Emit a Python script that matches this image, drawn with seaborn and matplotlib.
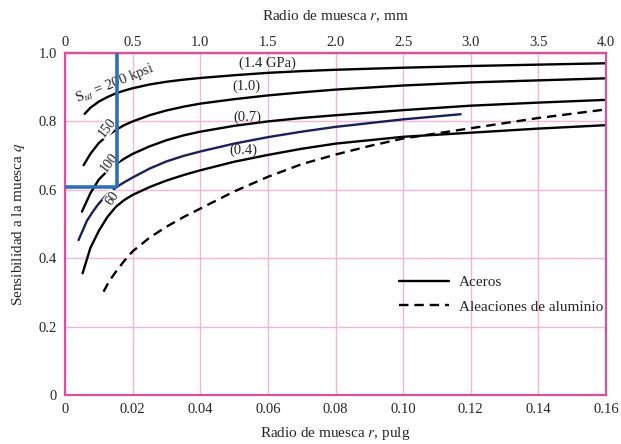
import matplotlib.pyplot as plt
import numpy as np
import pandas as pd
import seaborn as sns
from matplotlib.lines import Line2D

# notch radius r (in) and notch sensitivity q
r_200 = [0.0058, 0.0075, 0.01, 0.0125, 0.015, 0.0175, 0.02, 0.025, 0.03, 0.035, 0.04, 0.05, 0.06, 0.07, 0.08, 0.10, 0.12, 0.14, 0.16]
q_200 = [0.822, 0.840, 0.858, 0.871, 0.882, 0.890, 0.897, 0.908, 0.916, 0.922, 0.927, 0.935, 0.942, 0.947, 0.951, 0.957, 0.962, 0.966, 0.970]

r_150 = [0.0055, 0.0075, 0.01, 0.0125, 0.015, 0.0175, 0.02, 0.025, 0.03, 0.035, 0.04, 0.05, 0.06, 0.07, 0.08, 0.10, 0.12, 0.14, 0.16]
q_150 = [0.672, 0.705, 0.737, 0.758, 0.775, 0.789, 0.800, 0.818, 0.832, 0.843, 0.852, 0.865, 0.876, 0.885, 0.893, 0.905, 0.914, 0.920, 0.926]

r_100 = [0.005, 0.0075, 0.01, 0.0125, 0.015, 0.0175, 0.02, 0.025, 0.03, 0.035, 0.04, 0.05, 0.06, 0.07, 0.08, 0.10, 0.12, 0.14, 0.16]
q_100 = [0.536, 0.590, 0.630, 0.655, 0.675, 0.691, 0.705, 0.727, 0.745, 0.759, 0.770, 0.787, 0.800, 0.810, 0.818, 0.833, 0.846, 0.855, 0.863]

r_mid = [0.004, 0.0065, 0.0085, 0.01, 0.0125, 0.0154, 0.0175, 0.02, 0.025, 0.03, 0.035, 0.04, 0.05, 0.06, 0.07, 0.08, 0.10, 0.117]
q_mid = [0.453, 0.510, 0.540, 0.560, 0.587, 0.609, 0.622, 0.636, 0.662, 0.683, 0.699, 0.712, 0.735, 0.754, 0.770, 0.784, 0.806, 0.821]

r_60 = [0.0052, 0.0075, 0.01, 0.0125, 0.015, 0.0175, 0.02, 0.025, 0.03, 0.035, 0.04, 0.05, 0.06, 0.07, 0.08, 0.10, 0.12, 0.14, 0.16]
q_60 = [0.356, 0.430, 0.480, 0.520, 0.550, 0.570, 0.585, 0.608, 0.627, 0.643, 0.657, 0.682, 0.702, 0.720, 0.735, 0.755, 0.767, 0.779, 0.789]

r_al = [0.0114, 0.013, 0.015, 0.0175, 0.02, 0.025, 0.03, 0.035, 0.04, 0.05, 0.06, 0.07, 0.08, 0.09, 0.10, 0.12, 0.14, 0.16]
q_al = [0.302, 0.332, 0.360, 0.392, 0.420, 0.460, 0.492, 0.520, 0.545, 0.595, 0.638, 0.675, 0.703, 0.728, 0.750, 0.780, 0.810, 0.835]

# reading marked in blue on the chart
r_mark = 0.0155
q_mark = 0.607

x_ticks = [0, 0.02, 0.04, 0.06, 0.08, 0.10, 0.12, 0.14, 0.16]
x_labels = ['0', '0.02', '0.04', '0.06', '0.08', '0.10', '0.12', '0.14', '0.16']
y_ticks = [0, 0.2, 0.4, 0.6, 0.8, 1.0]
y_labels = ['0', '0.2', '0.4', '0.6', '0.8', '1.0']
mm_ticks = [0, 0.5, 1.0, 1.5, 2.0, 2.5, 3.0, 3.5, 4.0]
mm_labels = ['0', '0.5', '1.0', '1.5', '2.0', '2.5', '3.0', '3.5', '4.0']

sns.set_style("white")
plt.rcParams['font.family'] = ['Liberation Serif', 'DejaVu Serif']
plt.rcParams['mathtext.fontset'] = 'stix'

pink_edge = '#d8509f'
pink_grid = '#f2b6d6'
blue = '#2f6fb3'

fig = plt.figure(figsize=(6.21, 4.44), dpi=100)
ax = fig.add_axes([0.1047, 0.1104, 0.8712, 0.7702])

curves = [
    (r_200, q_200, 'black', '-'),
    (r_150, q_150, 'black', '-'),
    (r_100, q_100, 'black', '-'),
    (r_mid, q_mid, '#1a1f5c', '-'),
    (r_60, q_60, 'black', '-'),
    (r_al, q_al, 'black', '--'),
]
for rr, qq, c, ls in curves:
    df = pd.DataFrame({'r': rr, 'q': qq})
    sns.lineplot(data=df, x='r', y='q', ax=ax, color=c, linewidth=1.7,
                 estimator=None, sort=False)
    if ls == '--':
        ax.lines[-1].set_dashes((4, 2.5))

# blue construction lines
ax.plot([r_mark, r_mark], [q_mark, 1.0], color=blue, linewidth=2.6, solid_capstyle='butt', zorder=5)
ax.plot([0, r_mark], [q_mark, q_mark], color=blue, linewidth=2.6, solid_capstyle='butt', zorder=5)

ax.set_xlim(0, 0.16)
ax.set_ylim(0, 1.0)
ax.set_xticks(x_ticks)
ax.set_xticklabels(x_labels)
ax.set_yticks(y_ticks)
ax.set_yticklabels(y_labels)
ax.grid(True, color=pink_grid, linewidth=1.0)
ax.set_axisbelow(True)
for s in ax.spines.values():
    s.set_color(pink_edge)
    s.set_linewidth(1.6)
ax.tick_params(length=0, labelsize=10.5, pad=6)
ax.set_xlabel('Radio de muesca $r$, pulg', fontsize=11, labelpad=6)
ax.set_ylabel('Sensibilidad a la muesca $q$', fontsize=11, labelpad=8)

top = ax.secondary_xaxis('top', functions=(lambda x: x * 25.0, lambda x: x / 25.0))
top.set_xticks(mm_ticks)
top.set_xticklabels(mm_labels)
top.tick_params(length=0, labelsize=10.5, pad=3)
top.set_xlabel('Radio de muesca $r$, mm', fontsize=11, labelpad=11)
top.spines['top'].set_color(pink_edge)
top.spines['top'].set_linewidth(1.6)

# curve labels
ax.text(0.0036, 0.856, r'S$_{ut}$ = 200 kpsi', fontsize=10.5, rotation=22,
        ha='left', va='baseline', rotation_mode='anchor', zorder=4)
wb = dict(facecolor='white', edgecolor='none', pad=0.3)
ax.text(0.0124, 0.781, '150', fontsize=10, rotation=52, ha='center', va='center', bbox=wb, zorder=4)
ax.text(0.0132, 0.680, '100', fontsize=10, rotation=52, ha='center', va='center', bbox=wb, zorder=4)
ax.text(0.0139, 0.576, '60', fontsize=10, rotation=55, ha='center', va='center', bbox=wb, zorder=4)
ax.text(0.0598, 0.969, '(1.4 GPa)', fontsize=10.5, ha='center', va='center')
ax.text(0.0538, 0.902, '(1.0)', fontsize=10.5, ha='center', va='center')
ax.text(0.0538, 0.811, '(0.7)', fontsize=10.5, ha='center', va='center')
ax.text(0.0527, 0.715, '(0.4)', fontsize=10.5, ha='center', va='center')

handles = [Line2D([0], [0], color='black', linewidth=1.7),
           Line2D([0], [0], color='black', linewidth=1.7, dashes=(4, 2.5))]
ax.legend(handles, ['Aceros', 'Aleaciones de aluminio'], loc='center left',
          bbox_to_anchor=(0.592, 0.293), frameon=False, fontsize=11,
          handlelength=3.3, handletextpad=0.6, labelspacing=0.7)

fig.savefig('out.png', dpi=100)
